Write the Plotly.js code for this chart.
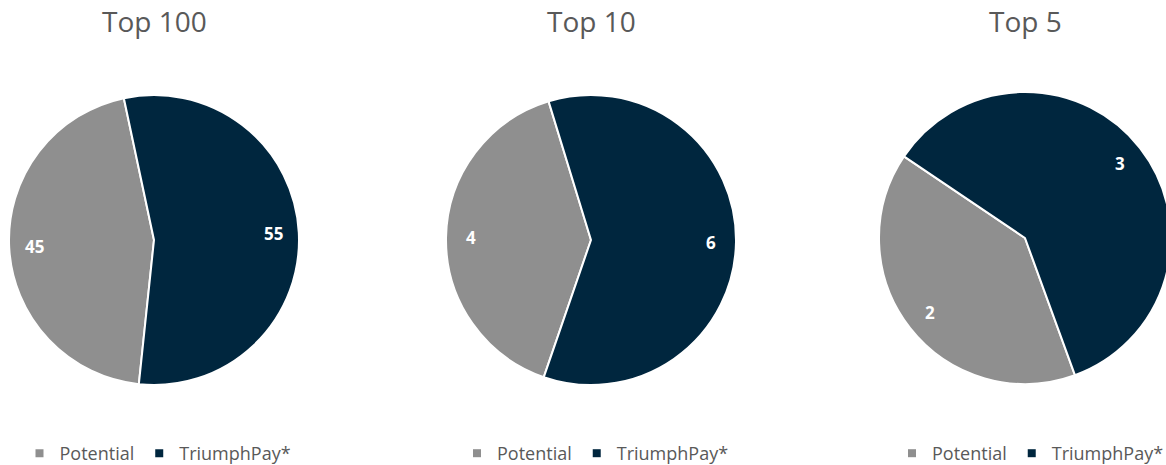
<!DOCTYPE html>
<html>
<head>
<meta charset="utf-8">
<script src="https://cdn.plot.ly/plotly-3.0.1.min.js"></script>
<style>
html,body{margin:0;padding:0;background:#fff;overflow:hidden;width:1166px;height:465px;}
#chart{width:1176px;height:472px;}
</style>
</head>
<body>
<div id="chart"></div>
<script>
const categories = ["Potential", "TriumphPay*"];
const chartTitles = ["Top 100", "Top 10", "Top 5"];
const top100Values = [45, 55];
const top10Values = [4, 6];
const top5Values = [2, 3];

const colors = ["#8f8f8f", "#00263e"];
const fontFamily = "Open Sans, Lato, sans-serif";
const W = 1176, H = 472;

// pie geometry in pixels (measured from top-left): centre, radius, start angle of first slice
const geom = [
  {cx: 154, cy: 240, r: 145, rot: 186},
  {cx: 591, cy: 240, r: 145, rot: 199},
  {cx: 1025, cy: 238, r: 146, rot: 160}
];
const valueSets = [top100Values, top10Values, top5Values];
const legendNames = ["legend", "legend2", "legend3"];
const legendSymbolX = [40.5, 478, 913];
const labelRadius = 0.83;

const data = [];
const annotations = [];
valueSets.forEach((vals, i) => {
  const g = geom[i];
  const x0 = Math.max(0, (g.cx - g.r) / W), x1 = Math.min(1, (g.cx + g.r) / W);
  const y0 = (H - g.cy - g.r) / H, y1 = (H - g.cy + g.r) / H;
  data.push({
    type: "pie",
    labels: categories,
    values: vals,
    sort: false,
    direction: "clockwise",
    rotation: g.rot,
    domain: {x: [x0, x1], y: [y0, y1]},
    marker: {colors: colors, line: {color: "#ffffff", width: 2}},
    textinfo: "none",
    hoverinfo: "label+value",
    showlegend: false
  });
  // value labels placed along each slice's bisector
  const total = vals.reduce((a, b) => a + b, 0);
  let start = g.rot;
  vals.forEach((v) => {
    const mid = (start + 360 * v / total / 2) * Math.PI / 180;
    start += 360 * v / total;
    const px = g.cx + labelRadius * (g.r - 1) * Math.sin(mid);
    const py = g.cy - labelRadius * (g.r - 1) * Math.cos(mid);
    annotations.push({
      text: "<b>" + v + "</b>", xref: "paper", yref: "paper",
      x: px / W, y: 1 - py / H, xanchor: "center", yanchor: "middle",
      showarrow: false,
      font: {family: fontFamily, size: 17, color: "#ffffff"}
    });
  });
  // legend entries
  categories.forEach((c, k) => {
    data.push({
      type: "scatter", mode: "markers",
      x: [null], y: [null], name: c,
      marker: {symbol: "square", size: 8, color: colors[k]},
      legend: legendNames[i], showlegend: true, hoverinfo: "skip"
    });
  });
});

chartTitles.forEach((t, i) => {
  annotations.push({
    text: t, xref: "paper", yref: "paper",
    x: geom[i].cx / W, y: 1 - 21 / H,
    xanchor: "center", yanchor: "middle",
    showarrow: false,
    font: {family: fontFamily, size: 28, color: "#595959"}
  });
});

const layout = {
  width: W, height: H,
  margin: {l: 0, r: 0, t: 0, b: 0},
  paper_bgcolor: "#ffffff",
  plot_bgcolor: "#ffffff",
  font: {family: fontFamily, color: "#595959"},
  xaxis: {visible: false},
  yaxis: {visible: false},
  annotations: annotations
};
legendNames.forEach((ln, i) => {
  layout[ln] = {
    orientation: "h",
    x: (legendSymbolX[i] - 21) / W, y: 0,
    xanchor: "left", yanchor: "bottom",
    font: {family: fontFamily, size: 18, color: "#595959"},
    itemwidth: 30,
    bgcolor: "rgba(0,0,0,0)"
  };
});

Plotly.newPlot("chart", data, layout, {displayModeBar: false, responsive: false});
</script>
</body>
</html>
